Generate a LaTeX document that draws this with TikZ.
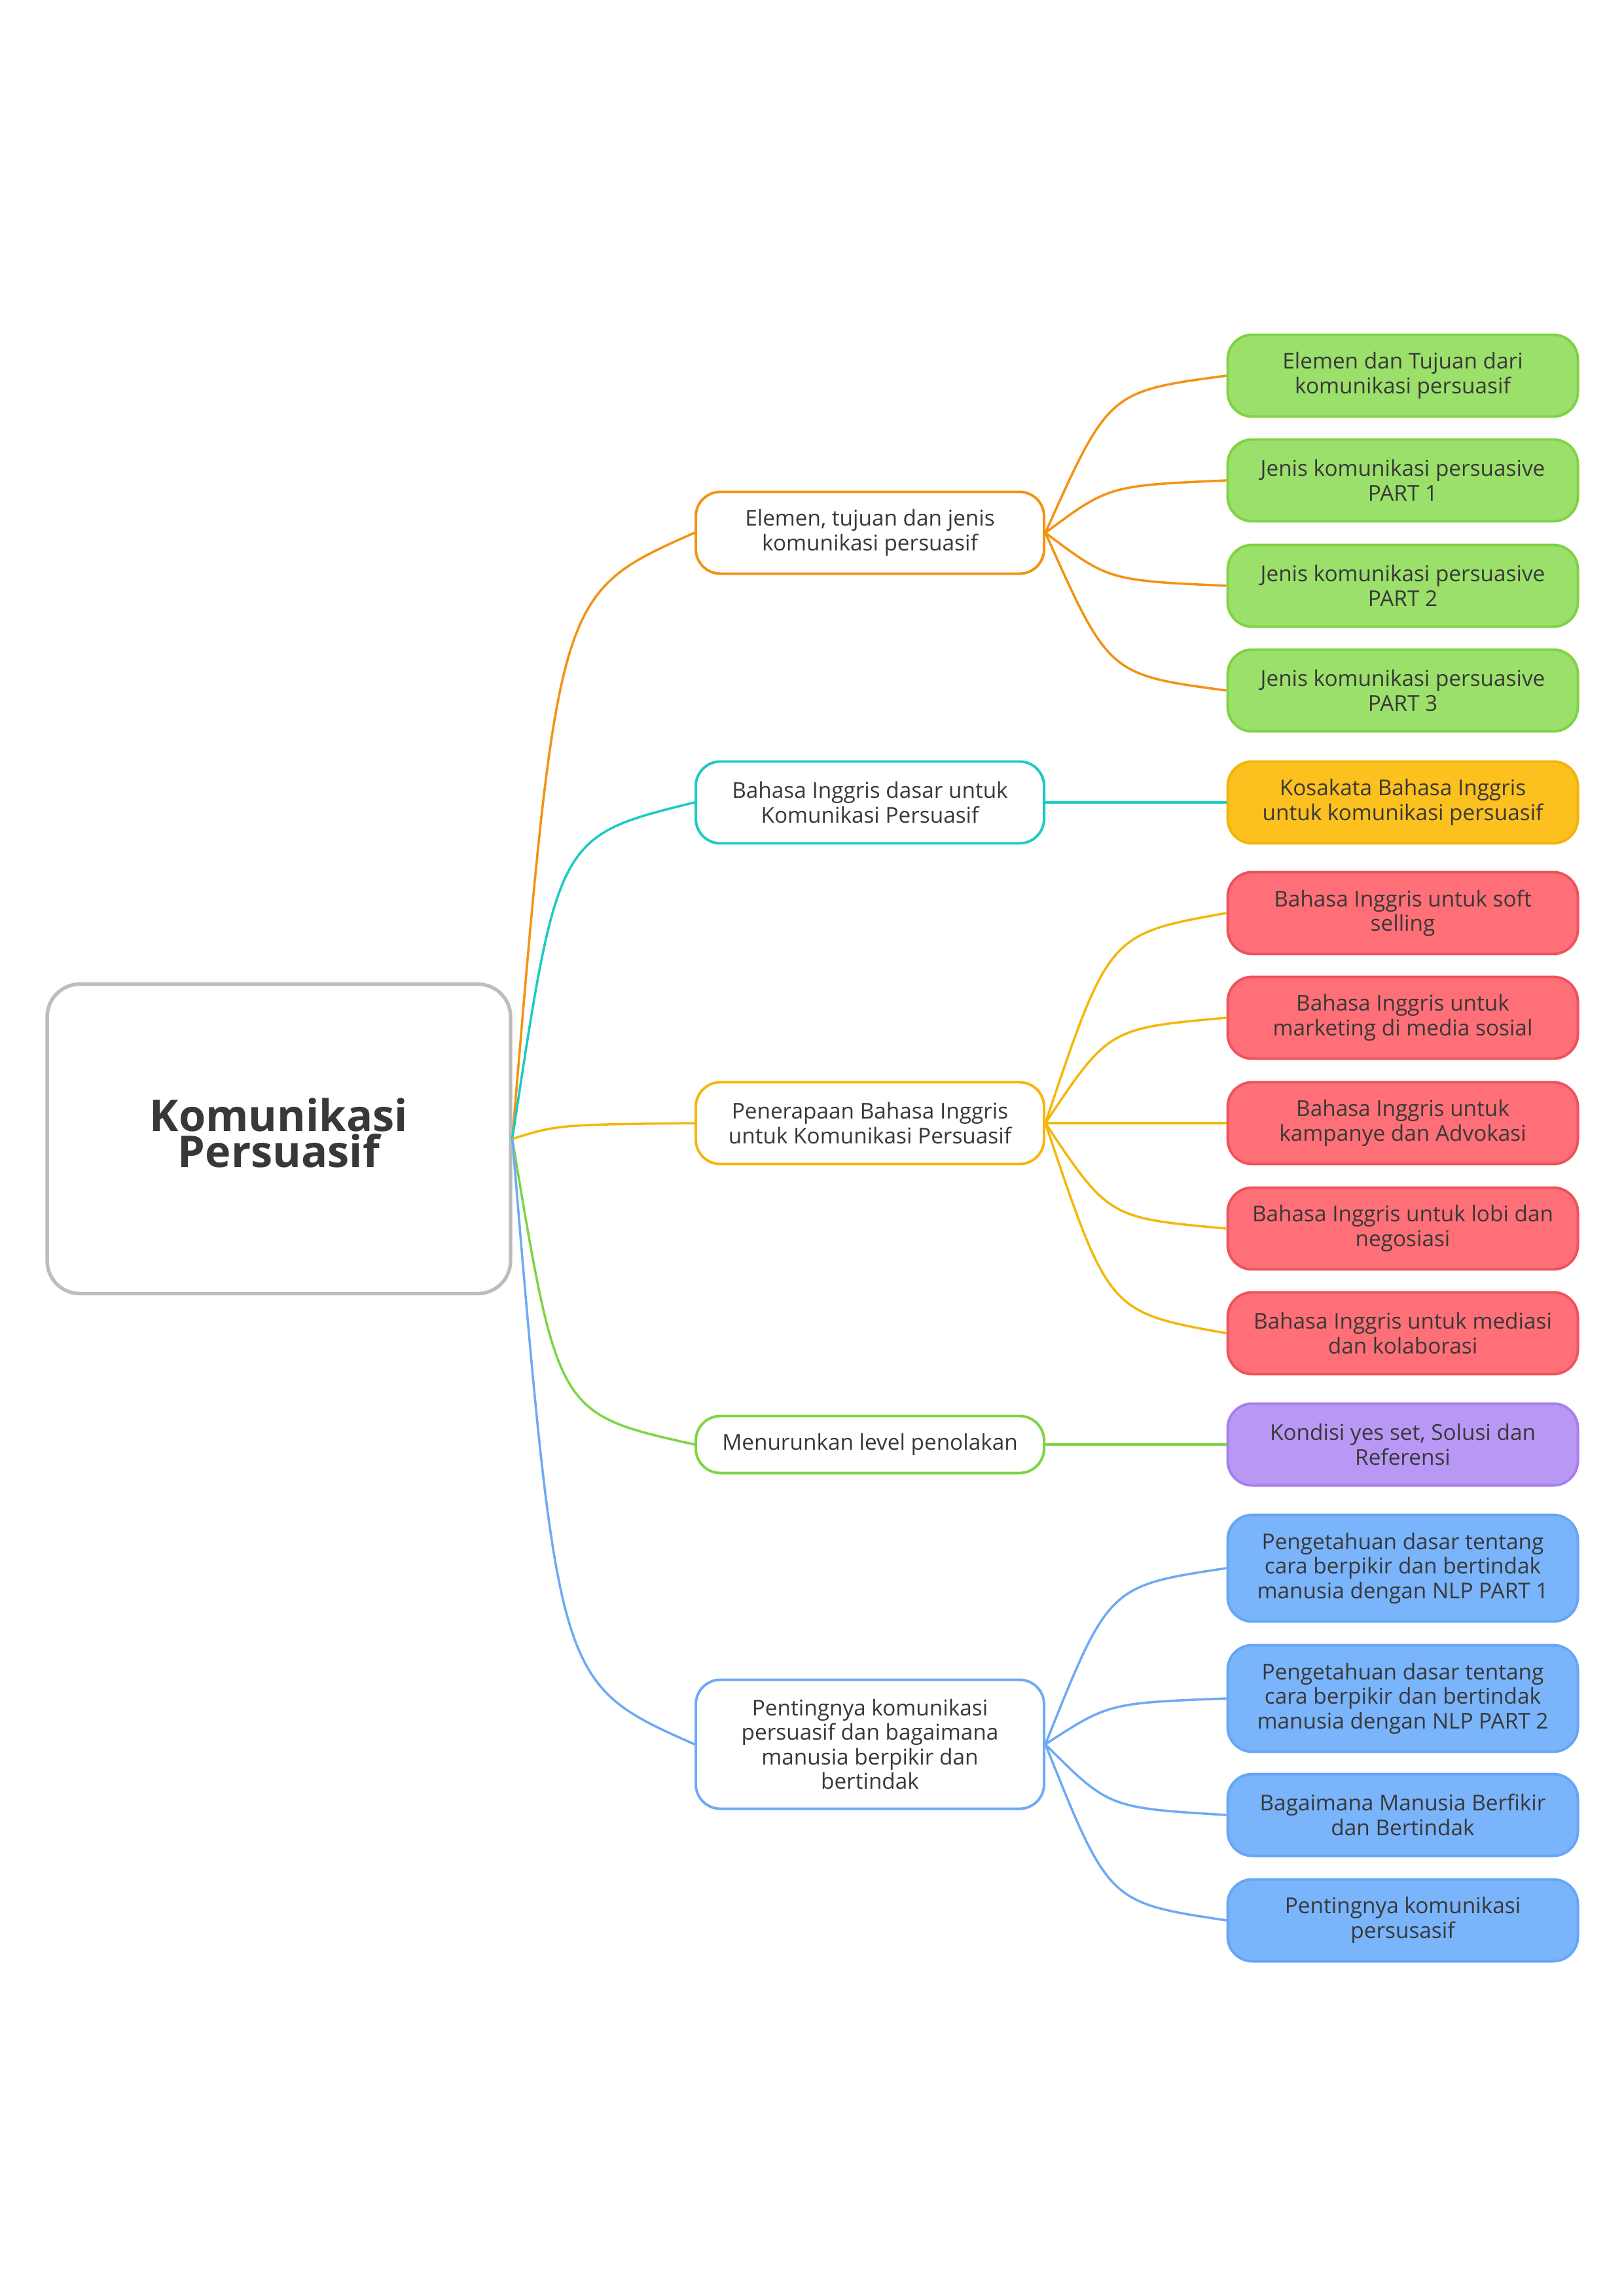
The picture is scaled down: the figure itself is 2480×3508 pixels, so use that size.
\documentclass[tikz,border=0pt]{standalone}
\usepackage{fontspec}
\setmainfont{Open Sans}
\usetikzlibrary{calc}
\definecolor{txt}{HTML}{383838}
\definecolor{rootLine}{HTML}{BDBDBD}
\definecolor{cOrange}{HTML}{F39312}
\definecolor{cCyan}{HTML}{1CCBC2}
\definecolor{cYellow}{HTML}{F4B70C}
\definecolor{cGreen}{HTML}{7DD544}
\definecolor{cBlue}{HTML}{6EAAF5}
\definecolor{gFill}{HTML}{9BE06B}
\definecolor{gLine}{HTML}{7FD343}
\definecolor{yFill}{HTML}{FCC11E}
\definecolor{yLine}{HTML}{F1B40A}
\definecolor{rFill}{HTML}{FF6F77}
\definecolor{rLine}{HTML}{EE535C}
\definecolor{pFill}{HTML}{B898F4}
\definecolor{pLine}{HTML}{A57FEE}
\definecolor{bFill}{HTML}{7AB4FA}
\definecolor{bLine}{HTML}{66A6F6}
\tikzset{
  base/.style={rounded corners=9pt, align=center, inner sep=0pt, text=txt,
    font=\fontsize{8}{9}\selectfont, line width=0.95pt},
  midbox/.style={base, draw=#1, fill=white, minimum width=127.7pt},
  leafbox/.style={base, minimum width=128.4pt},
  lgreen/.style={leafbox, fill=gFill, draw=gLine},
  lyellow/.style={leafbox, fill=yFill, draw=yLine},
  lred/.style={leafbox, fill=rFill, draw=rLine},
  lpurple/.style={leafbox, fill=pFill, draw=pLine},
  lblue/.style={leafbox, fill=bFill, draw=bLine},
  hone/.style={minimum height=20.9pt},
  htwo/.style={minimum height=30pt},
  hthree/.style={minimum height=39.1pt},
  hfour/.style={minimum height=47.3pt},
  rootbox/.style={draw=rootLine, line width=1.3pt, fill=white, rounded corners=12pt,
    minimum width=169.9pt, minimum height=113.5pt, inner sep=0pt},
  roottext/.style={align=center, inner sep=0pt, text=txt,
    font=\fontsize{16}{13.4}\selectfont\bfseries},
  conn/.style={line width=0.85pt, draw=#1}
}
\newcommand\mmcurve[4]{\draw[conn=#1] let \p1=(#2.east), \p2=(#3.west) in
  (\p1) .. controls ({\x1+#4*(\x2-\x1)},{\y1+0.9*(\y2-\y1)}) and ({\x1+#4*(\x2-\x1)},{\y1+0.9*(\y2-\y1)}) .. (\p2);}
\begin{document}
\begin{tikzpicture}[x=0.24pt,y=-0.24pt]
\useasboundingbox (0,0) rectangle (2480,3508);
% root
\node[rootbox] (root) at (426,1740) {};
\node[roottext] (roottitle) at (426,1731) {Komunikasi\\Persuasif};
% mid nodes
\node[midbox=cOrange, htwo] (m1) at (1329,814) {Elemen, tujuan dan jenis\\komunikasi persuasif};
\node[midbox=cCyan, htwo] (m2) at (1329,1226) {Bahasa Inggris dasar untuk\\Komunikasi Persuasif};
\node[midbox=cYellow, htwo] (m3) at (1329,1716) {Penerapaan Bahasa Inggris\\untuk Komunikasi Persuasif};
\node[midbox=cGreen, hone] (m4) at (1329,2207) {Menurunkan level penolakan};
\node[midbox=cBlue, hfour] (m5) at (1329,2665) {Pentingnya komunikasi\\persuasif dan bagaimana\\manusia berpikir dan\\bertindak};
% leaves
\node[lgreen, htwo] (l1) at (2143,574) {Elemen dan Tujuan dari\\komunikasi persuasif};
\node[lgreen, htwo] (l2) at (2143,734) {Jenis komunikasi persuasive\\PART 1};
\node[lgreen, htwo] (l3) at (2143,895) {Jenis komunikasi persuasive\\PART 2};
\node[lgreen, htwo] (l4) at (2143,1055) {Jenis komunikasi persuasive\\PART 3};
\node[lyellow, htwo] (l5) at (2143,1226) {Kosakata Bahasa Inggris\\untuk komunikasi persuasif};
\node[lred, htwo] (l6) at (2143,1395) {Bahasa Inggris untuk soft\\selling};
\node[lred, htwo] (l7) at (2143,1555) {Bahasa Inggris untuk\\marketing di media sosial};
\node[lred, htwo] (l8) at (2143,1716) {Bahasa Inggris untuk\\kampanye dan Advokasi};
\node[lred, htwo] (l9) at (2143,1877) {Bahasa Inggris untuk lobi dan\\negosiasi};
\node[lred, htwo] (l10) at (2143,2037) {Bahasa Inggris untuk mediasi\\dan kolaborasi};
\node[lpurple, htwo] (l11) at (2143,2207) {Kondisi yes set, Solusi dan\\Referensi};
\node[lblue, hthree] (l12) at (2143,2396) {Pengetahuan dasar tentang\\cara berpikir dan bertindak\\manusia dengan NLP PART 1};
\node[lblue, hthree] (l13) at (2143,2595) {Pengetahuan dasar tentang\\cara berpikir dan bertindak\\manusia dengan NLP PART 2};
\node[lblue, htwo] (l14) at (2143,2773) {Bagaimana Manusia Berfikir\\dan Bertindak};
\node[lblue, htwo] (l15) at (2143,2934) {Pentingnya komunikasi\\persusasif};
% root connectors
\mmcurve{cOrange}{root}{m1}{0.25}
\mmcurve{cCyan}{root}{m2}{0.25}
\mmcurve{cYellow}{root}{m3}{0.25}
\mmcurve{cGreen}{root}{m4}{0.25}
\mmcurve{cBlue}{root}{m5}{0.25}
% leaf connectors
\mmcurve{cOrange}{m1}{l1}{0.35}
\mmcurve{cOrange}{m1}{l2}{0.35}
\mmcurve{cOrange}{m1}{l3}{0.35}
\mmcurve{cOrange}{m1}{l4}{0.35}
\draw[conn=cCyan] (m2.east) -- (l5.west);
\mmcurve{cYellow}{m3}{l6}{0.35}
\mmcurve{cYellow}{m3}{l7}{0.35}
\draw[conn=cYellow] (m3.east) -- (l8.west);
\mmcurve{cYellow}{m3}{l9}{0.35}
\mmcurve{cYellow}{m3}{l10}{0.35}
\draw[conn=cGreen] (m4.east) -- (l11.west);
\mmcurve{cBlue}{m5}{l12}{0.35}
\mmcurve{cBlue}{m5}{l13}{0.35}
\mmcurve{cBlue}{m5}{l14}{0.35}
\mmcurve{cBlue}{m5}{l15}{0.35}
\end{tikzpicture}
\end{document}
